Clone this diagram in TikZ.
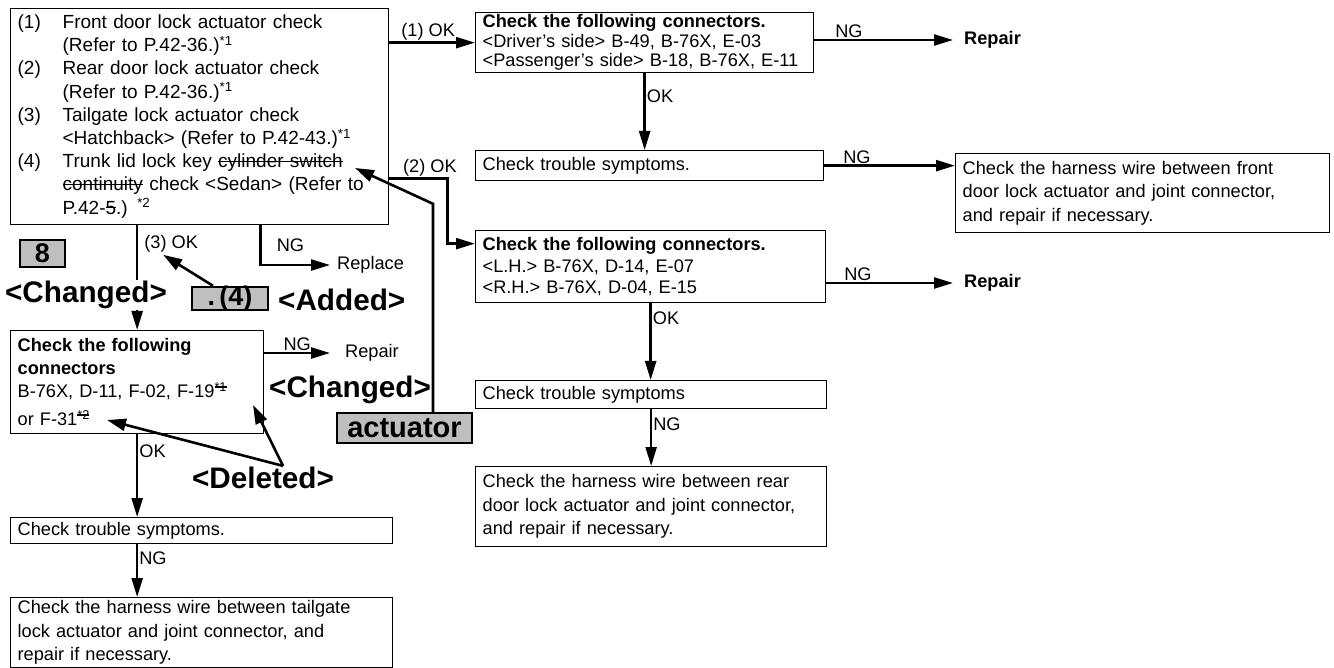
\documentclass[tikz,border=0pt]{standalone}
\usepackage{fontspec}
\setmainfont{Liberation Sans}
\usetikzlibrary{arrows.meta}
\newsavebox{\strkbox}
\newcommand{\strk}[1]{\sbox{\strkbox}{#1}\rlap{\usebox{\strkbox}}\rule[0.3em]{\wd\strkbox}{1.2pt}}

\begin{document}
\begin{tikzpicture}[x=1pt, y=-1pt,
  box/.style={draw, line width=1.3pt, anchor=north west, align=left, inner xsep=7pt, inner ysep=2pt, font=\fontsize{18.2}{21.5}\selectfont},
  lbl/.style={inner sep=1pt, font=\fontsize{18.2}{21}\selectfont},
  big/.style={inner sep=1pt, font=\fontsize{29.7}{32}\selectfont\bfseries},
  tag/.style={draw, line width=2.4pt, fill=black!25, inner sep=0pt, font=\fontsize{27}{30}\selectfont\bfseries},
  conn/.style={line width=2.4pt, -{Triangle[length=19pt,width=11pt]}},
  ptr/.style={line width=2.6pt, -{Triangle[length=19pt,width=12pt]}}]
\useasboundingbox (0,0) rectangle (1334,668);

% actuator checks
\node[box, text width=364pt, minimum height=216pt, font=\fontsize{19}{23.2}\selectfont] (Act) at (10,8) {\begin{tabular}{@{}p{45pt}@{}l@{}}
(1) & Front door lock actuator check\\
 & (Refer to P.42-36.)\textsuperscript{*1}\\
(2) & Rear door lock actuator check\\
 & (Refer to P.42-36.)\textsuperscript{*1}\\
(3) & Tailgate lock actuator check\\
 & <Hatchback> (Refer to P.42-43.)\textsuperscript{*1}\\
(4) & Trunk lid lock key \strk{cylinder switch}\\
 & \strk{continuity} check <Sedan> (Refer to\\
 & P.42-\strk{5}.) \textsuperscript{*2}
\end{tabular}};

% front door branch
\node[box, text width=324pt, minimum height=60pt, font=\fontsize{18.2}{19.5}\selectfont] (ConnF) at (475,12) {\textbf{Check the following connectors.}\\ <Driver's side> B-49, B-76X, E-03\\ <Passenger's side> B-18, B-76X, E-11};
\node[box, text width=334pt, minimum height=30pt] (SymF) at (475,150) {Check trouble symptoms.};
\node[box, text width=360pt, minimum height=79pt, font=\fontsize{18.2}{23.5}\selectfont] (HarnF) at (955,153) {Check the harness wire between front\\ door lock actuator and joint connector,\\ and repair if necessary.};
\node[lbl, anchor=west, inner xsep=11pt, font=\fontsize{18.2}{21}\selectfont\bfseries] (RepF) at (953,40) {Repair};

% rear door branch
\node[box, text width=336pt, minimum height=72pt] (ConnR) at (475,230) {\textbf{Check the following connectors.}\\ <L.H.> B-76X, D-14, E-07\\ <R.H.> B-76X, D-04, E-15};
\node[box, text width=337pt, minimum height=28pt] (SymR) at (475,380) {Check trouble symptoms};
\node[box, text width=337pt, minimum height=80pt, font=\fontsize{18.2}{23.5}\selectfont] (HarnR) at (475,466) {Check the harness wire between rear\\ door lock actuator and joint connector,\\ and repair if necessary.};
\node[lbl, anchor=west, inner xsep=11pt, font=\fontsize{18.2}{21}\selectfont\bfseries] (RepR) at (953,283) {Repair};

% tailgate / trunk branch
\node[box, text width=239pt, minimum height=103pt, font=\fontsize{18.2}{23}\selectfont] (ConnT) at (10,330) {\textbf{Check the following}\\ \textbf{connectors}\\ B-76X, D-11, F-02, F-19\textsuperscript{\strk{*1}}\\[5pt] or F-31\textsuperscript{\strk{*2}}};
\node[box, text width=368pt, minimum height=26pt] (SymT) at (10,517) {Check trouble symptoms.};
\node[box, text width=368pt, minimum height=70pt, font=\fontsize{18.2}{23.5}\selectfont] (HarnT) at (10,597) {Check the harness wire between tailgate\\ lock actuator and joint connector, and\\ repair if necessary.};
\node[lbl, anchor=west, inner xsep=7pt] (Repl) at (330,265) {Replace};
\node[lbl, anchor=west, inner xsep=15pt] (RepT) at (330,353) {Repair};

% connectors
\draw[conn] (Act.east |- ConnF.west) -- node[lbl, above, xshift=-4pt] {(1) OK} (ConnF.west);
\draw[conn] (ConnF.east |- RepF.west) -- node[lbl, above, pos=0.25] {NG} (RepF.west);
\draw[conn] (ConnF.south) -- node[lbl, right, pos=0.3] {OK} (ConnF.south |- SymF.north);
\draw[conn] (SymF.east) -- node[lbl, above, pos=0.25] {NG} (SymF.east -| HarnF.west);

\draw[conn] ([yshift=-62pt]Act.east) -- node[lbl, above, pos=0.7] {(2) OK} ++(58,0) |- ([yshift=23pt]ConnR.west);
\draw[conn] (ConnR.east |- RepR.west) -- node[lbl, above, pos=0.25] {NG} (RepR.west);
\draw[conn] (ConnR.south) -- node[lbl, right, pos=0.2] {OK} (ConnR.south |- SymR.north);
\draw[conn] (SymR.south) -- node[lbl, right, pos=0.26] {NG} (SymR.south |- HarnR.north);

\draw[conn] (ConnT.north |- Act.south) -- node[lbl, right, pos=0.18, xshift=5pt] (OK3) {(3) OK} (ConnT.north);
\draw[conn] ([xshift=61pt]Act.south) |- node[lbl, right, pos=0.25, xshift=14pt] {NG} (Repl.west);
\draw[conn] (ConnT.east |- RepT.west) -- node[lbl, above] {NG} (RepT.west);
\draw[conn] (ConnT.south) -- node[lbl, right, pos=0.2] {OK} (ConnT.south |- SymT.north);
\draw[conn] (ConnT.south |- SymT.south) -- node[lbl, right, pos=0.26] {NG} (ConnT.south |- HarnT.north);

% revision notes
\node[big, fill=white] (Chg1) at (86,295) {<Changed>};
\node[tag, minimum width=45pt, minimum height=27pt] (T8) at (42.5,253.5) {8};
\node[tag, minimum width=76pt, minimum height=23pt, text height=17pt, text depth=3pt] (T4) at (230,298.5) {.\,(4)};
\node[big, anchor=west] (Add) at (277,300) {<Added>};
\node[big, anchor=west] (Chg2) at (268,390) {<Changed>};
\node[tag, minimum width=135pt, minimum height=30pt, font=\fontsize{29}{30}\selectfont\bfseries] (TAct) at (404.5,428) {actuator};
\node[big] (Del) at (263,478) {<Deleted>};

\coordinate (Cyl) at (355,168);
\coordinate (F19) at (253,405);
\coordinate (F31) at (107,420);

\draw[ptr] ([xshift=-17pt]T4.north) -- ([xshift=-8pt]OK3.south);
\draw[ptr] ([xshift=28.5pt]TAct.north) -- ++(0,-208) -- (Cyl);
\draw[ptr] ([xshift=20pt]Del.north) -- (F19);
\draw[ptr] ([xshift=20pt]Del.north) -- (F31);
\end{tikzpicture}
\end{document}
